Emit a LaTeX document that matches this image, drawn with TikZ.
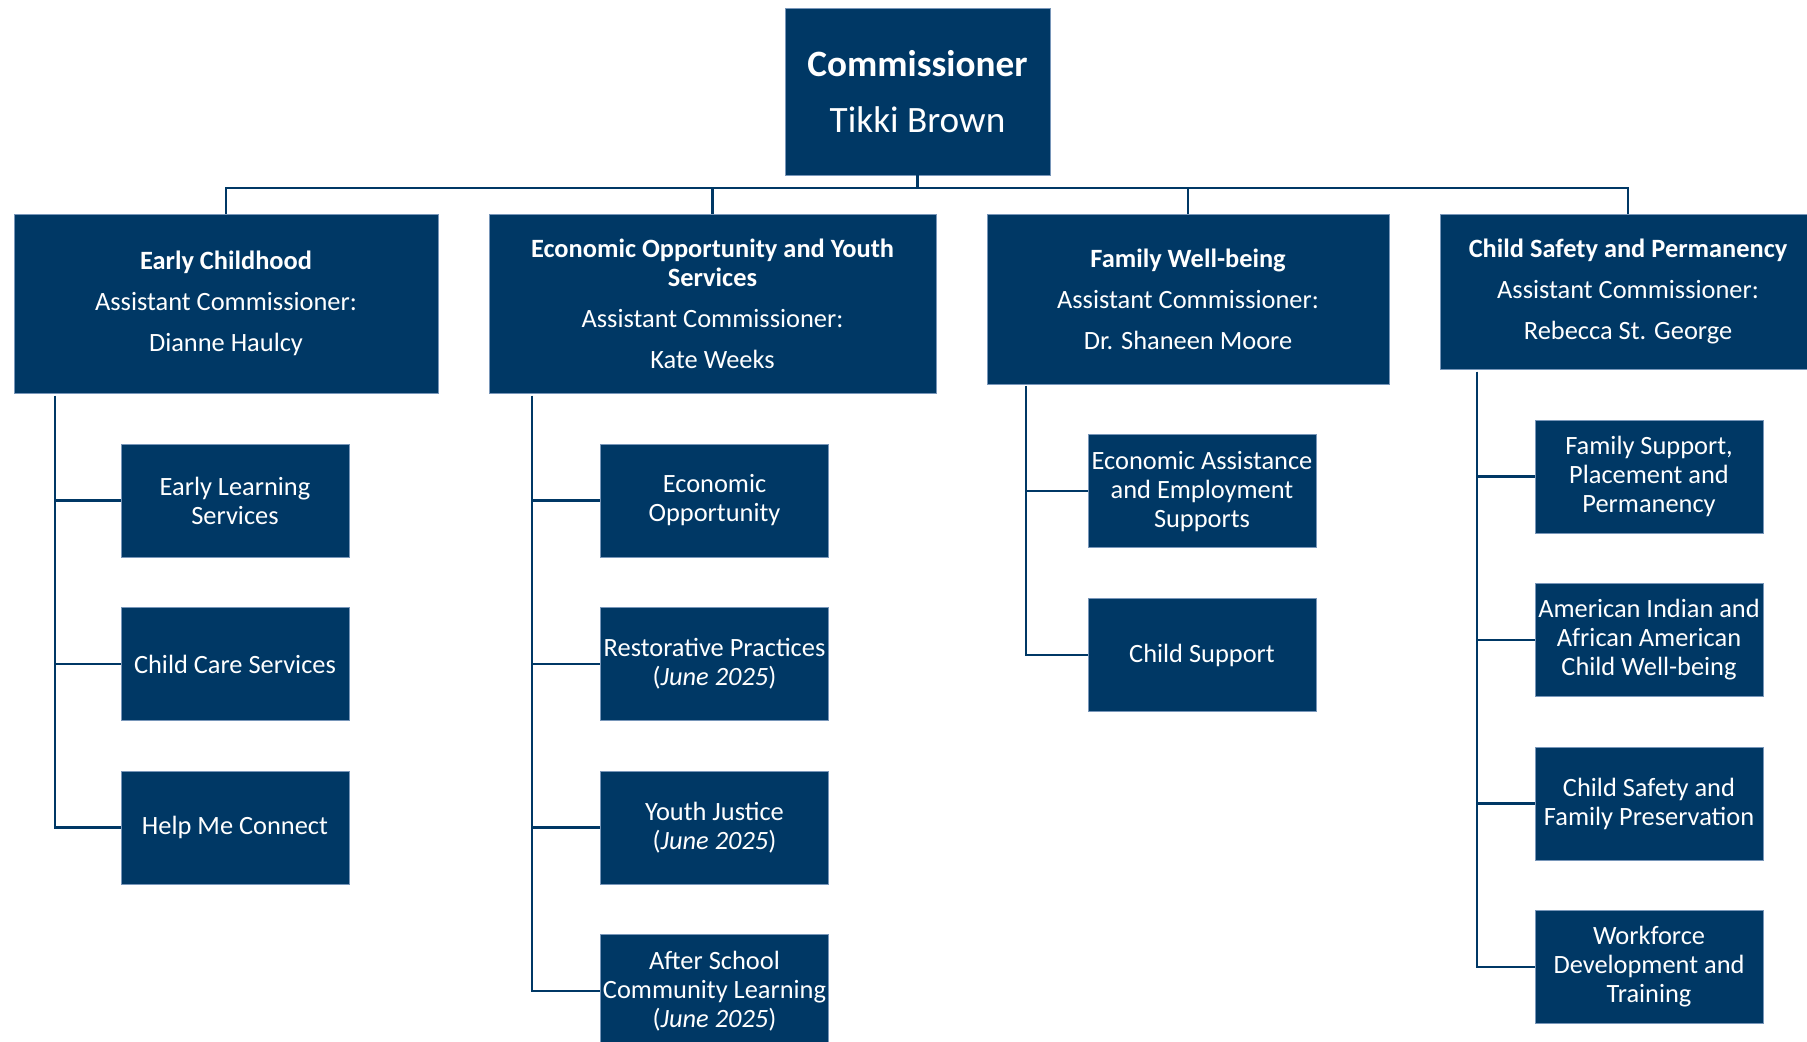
\documentclass[tikz,border=0pt]{standalone}
\usepackage{fontspec}
\setmainfont{Carlito}
\definecolor{dhsblue}{RGB}{0,56,101}
\definecolor{dhsedge}{RGB}{120,150,185}
\tikzset{
  box/.style={fill=dhsblue, draw=dhsedge, line width=0.4pt, text=white,
    align=center, inner sep=0pt, font=\fontsize{13.2}{14.5}\selectfont},
  topbox/.style={box, font=\fontsize{18.6}{20}\selectfont},
  unitbox/.style={box},
  subbox/.style={box, minimum width=114pt, minimum height=56.4pt},
  link/.style={draw=dhsblue, line width=1.1pt},
}
\begin{document}
\begin{tikzpicture}[x=0.5pt,y=-0.5pt]
    \clip (0,0) rectangle (1807,1042);
    % commissioner
    \node[topbox, minimum width=132.5pt, minimum height=83.5pt] (comm) at (917.5,91.5)
        {\textbf{Commissioner}\\[8pt]Tikki Brown};
    % assistant commissioners
    \node[unitbox, minimum width=212pt, minimum height=89.5pt] (ec) at (226,303.5)
        {\textbf{Early Childhood}\\[6pt]Assistant Commissioner:\\[6pt]Dianne Haulcy};
    \node[unitbox, minimum width=223.5pt, minimum height=89.5pt] (eoys) at (712.5,303.5)
        {\textbf{Economic Opportunity and Youth}\\\textbf{Services}\\[6pt]Assistant Commissioner:\\[6pt]Kate Weeks};
    \node[unitbox, minimum width=201pt, minimum height=85pt] (fwb) at (1188,299)
        {\textbf{Family Well-being}\\[6pt]Assistant Commissioner:\\[6pt]Dr. Shaneen Moore};
    \node[unitbox, minimum width=188pt, minimum height=77.5pt] (csp) at (1628,291.5)
        {\textbf{Child Safety and Permanency}\\[6pt]Assistant Commissioner:\\[6pt]Rebecca St. George};
    \coordinate (bus) at (917.5,188);
    \draw[link] (comm.south) -- (bus);
    \foreach \u in {ec,eoys,fwb,csp}
        \draw[link] (bus) -| (\u.north);
    % early childhood
    \node[subbox] (els) at (235,500.5) {Early Learning\\Services};
    \node[subbox] (ccs) at (235,664) {Child Care Services};
    \node[subbox] (hmc) at (235,827.5) {Help Me Connect};
    \coordinate (ecsp) at (55,396);
    \foreach \s in {els,ccs,hmc}
        \draw[link] (ecsp) |- (\s.west);
    % economic opportunity and youth services
    \node[subbox] (eco) at (714.5,500.5) {Economic\\Opportunity};
    \node[subbox] (rpr) at (714.5,664) {Restorative Practices\\(\textit{June 2025})};
    \node[subbox] (yju) at (714.5,827.5) {Youth Justice\\(\textit{June 2025})};
    \node[subbox] (asc) at (714.5,991) {After School\\Community Learning\\(\textit{June 2025})};
    \coordinate (eoysp) at (532,396);
    \foreach \s in {eco,rpr,yju,asc}
        \draw[link] (eoysp) |- (\s.west);
    % family well-being
    \node[subbox] (eae) at (1202,491.3) {Economic Assistance\\and Employment\\Supports};
    \node[subbox] (chs) at (1202,655) {Child Support};
    \coordinate (fwbsp) at (1026,386);
    \foreach \s in {eae,chs}
        \draw[link] (fwbsp) |- (\s.west);
    % child safety and permanency
    \node[subbox] (fsp) at (1649,476.5) {Family Support,\\Placement and\\Permanency};
    \node[subbox] (aia) at (1649,640) {American Indian and\\African American\\Child Well-being};
    \node[subbox] (csf) at (1649,803.5) {Child Safety and\\Family Preservation};
    \node[subbox] (wdt) at (1649,967) {Workforce\\Development and\\Training};
    \coordinate (cspsp) at (1477,372);
    \foreach \s in {fsp,aia,csf,wdt}
        \draw[link] (cspsp) |- (\s.west);
\end{tikzpicture}
\end{document}
